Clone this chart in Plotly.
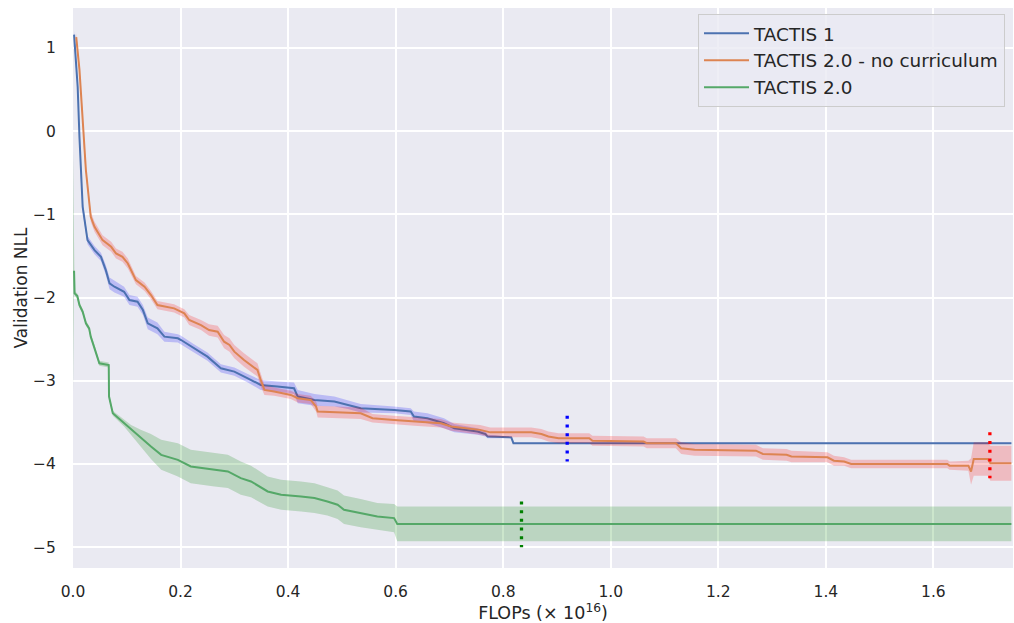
import plotly.graph_objects as go

# FLOPs are in units of 1e16; values are validation NLL (mean and half-width of the shaded band)
T1_X = [0.002, 0.004, 0.0087, 0.012, 0.015, 0.018, 0.027, 0.040, 0.052, 0.061,
        0.068, 0.077, 0.095, 0.105, 0.120, 0.130, 0.139, 0.157, 0.170, 0.195,
        0.201, 0.225, 0.250, 0.275, 0.300, 0.325, 0.349, 0.380, 0.411, 0.418,
        0.449, 0.486, 0.511, 0.535, 0.597, 0.628, 0.634, 0.659, 0.690, 0.709,
        0.752, 0.767, 0.771, 0.815, 0.819, 1.745]
T1_Y = [1.16, 0.95, 0.53, -0.07, -0.59, -0.91, -1.31, -1.43, -1.51, -1.67,
        -1.83, -1.87, -1.93, -2.03, -2.05, -2.15, -2.31, -2.37, -2.47, -2.49,
        -2.51, -2.61, -2.71, -2.85, -2.89, -2.97, -3.05, -3.07, -3.09, -3.19,
        -3.23, -3.25, -3.29, -3.33, -3.35, -3.37, -3.43, -3.45, -3.51, -3.57,
        -3.61, -3.64, -3.67, -3.68, -3.75, -3.75]
T1_SPREAD = [0.05, 0.06, 0.07, 0.07, 0.06, 0.06, 0.05, 0.05, 0.05, 0.06,
             0.07, 0.07, 0.06, 0.06, 0.06, 0.06, 0.07, 0.07, 0.06, 0.05,
             0.05, 0.05, 0.05, 0.05, 0.05, 0.05, 0.06, 0.06, 0.07, 0.08,
             0.07, 0.06, 0.05, 0.05, 0.04, 0.04, 0.06, 0.06, 0.06, 0.05,
             0.04, 0.03, 0.02, 0.01, 0.005, 0.005]

NC_X = [0.006, 0.012, 0.016, 0.018, 0.021, 0.024, 0.033, 0.040, 0.055, 0.071,
        0.080, 0.092, 0.102, 0.117, 0.133, 0.145, 0.157, 0.188, 0.207, 0.216,
        0.238, 0.253, 0.269, 0.281, 0.291, 0.300, 0.318, 0.343, 0.349, 0.356,
        0.374, 0.405, 0.418, 0.442, 0.452, 0.455, 0.535, 0.557, 0.597, 0.634,
        0.684, 0.703, 0.757, 0.776, 0.852, 0.871, 0.884, 0.903, 0.960, 0.966,
        1.061, 1.067, 1.121, 1.131, 1.156, 1.270, 1.283, 1.327, 1.336, 1.403,
        1.415, 1.434, 1.447, 1.453, 1.626, 1.630, 1.665, 1.670, 1.675, 1.701,
        1.706, 1.745]
NC_Y = [1.13, 0.74, 0.34, 0.13, -0.27, -0.47, -1.03, -1.15, -1.31, -1.39,
        -1.47, -1.51, -1.59, -1.79, -1.87, -1.97, -2.09, -2.13, -2.19, -2.27,
        -2.33, -2.39, -2.41, -2.53, -2.57, -2.65, -2.75, -2.87, -2.99, -3.11,
        -3.13, -3.17, -3.21, -3.23, -3.31, -3.37, -3.39, -3.45, -3.47, -3.49,
        -3.51, -3.55, -3.59, -3.62, -3.62, -3.64, -3.67, -3.69, -3.69, -3.72,
        -3.73, -3.75, -3.75, -3.81, -3.83, -3.84, -3.88, -3.89, -3.91, -3.92,
        -3.96, -3.97, -4.00, -4.00, -4.00, -4.02, -4.02, -4.09, -3.94, -3.94,
        -3.99, -3.99]
NC_SPREAD = [0.05, 0.05, 0.05, 0.05, 0.05, 0.05, 0.06, 0.06, 0.06, 0.06,
             0.06, 0.06, 0.06, 0.05, 0.05, 0.05, 0.05, 0.05, 0.05, 0.06,
             0.06, 0.07, 0.07, 0.08, 0.08, 0.08, 0.08, 0.08, 0.08, 0.06,
             0.05, 0.05, 0.05, 0.05, 0.06, 0.07, 0.07, 0.05, 0.05, 0.05,
             0.05, 0.05, 0.06, 0.06, 0.06, 0.06, 0.06, 0.06, 0.06, 0.06,
             0.06, 0.06, 0.06, 0.07, 0.07, 0.07, 0.07, 0.07, 0.07, 0.06,
             0.06, 0.05, 0.05, 0.05, 0.05, 0.05, 0.06, 0.16, 0.20, 0.20,
             0.21, 0.21]

T2_X = [0.000, 0.002, 0.003, 0.008, 0.012, 0.018, 0.024, 0.030, 0.033, 0.040,
        0.049, 0.0665, 0.067, 0.074, 0.095, 0.108, 0.126, 0.145, 0.164, 0.195,
        0.219, 0.244, 0.263, 0.288, 0.312, 0.331, 0.362, 0.387, 0.424, 0.449,
        0.473, 0.492, 0.504, 0.535, 0.566, 0.597, 0.603, 1.745]
T2_Y = [-1.69, -1.69, -1.95, -1.98, -2.09, -2.17, -2.31, -2.37, -2.47, -2.60,
        -2.79, -2.81, -3.19, -3.39, -3.51, -3.59, -3.69, -3.79, -3.89, -3.95,
        -4.03, -4.05, -4.07, -4.09, -4.17, -4.21, -4.33, -4.37, -4.39, -4.41,
        -4.45, -4.49, -4.55, -4.59, -4.63, -4.65, -4.72, -4.72]
T2_SPREAD = [1.46, 0.05, 0.03, 0.03, 0.03, 0.03, 0.03, 0.03, 0.03, 0.03,
             0.03, 0.03, 0.03, 0.03, 0.04, 0.06, 0.10, 0.15, 0.18, 0.20,
             0.20, 0.20, 0.20, 0.20, 0.20, 0.19, 0.18, 0.18, 0.18, 0.18,
             0.17, 0.17, 0.17, 0.17, 0.16, 0.17, 0.21, 0.21]

SERIES_NAMES = ["TACTIS 1", "TACTIS 2.0 - no curriculum", "TACTIS 2.0"]
LINE_COLORS = ["#4C72B0", "#DD8452", "#55A868"]
BAND_COLORS = ["rgba(0,0,255,0.2)", "rgba(255,0,0,0.2)", "rgba(0,128,0,0.2)"]

# vertical dotted markers (convergence points)
MARK_X = [0.919, 1.705, 0.834]
MARK_Y_LOW = [-3.97, -4.17, -5.00]
MARK_Y_HIGH = [-3.42, -3.62, -4.45]
MARK_COLORS = ["blue", "red", "green"]

X_TICKS = [0.0, 0.2, 0.4, 0.6, 0.8, 1.0, 1.2, 1.4, 1.6]
Y_TICKS = [-5, -4, -3, -2, -1, 0, 1]

TEXT = "#262626"
FONT = "DejaVu Sans"

series = [(T1_X, T1_Y, T1_SPREAD), (NC_X, NC_Y, NC_SPREAD), (T2_X, T2_Y, T2_SPREAD)]

fig = go.Figure()
for (xs, ys, sp), name, lc, bc in zip(series, SERIES_NAMES, LINE_COLORS, BAND_COLORS):
    upper = [y + s for y, s in zip(ys, sp)]
    lower = [y - s for y, s in zip(ys, sp)]
    fig.add_trace(go.Scatter(
        x=list(xs) + list(xs)[::-1], y=upper + lower[::-1],
        fill="toself", fillcolor=bc, line=dict(width=0),
        mode="lines", showlegend=False, hoverinfo="skip"))
    fig.add_trace(go.Scatter(
        x=xs, y=ys, mode="lines", name=name,
        line=dict(color=lc, width=2)))

for mx, lo, hi, c in zip(MARK_X, MARK_Y_LOW, MARK_Y_HIGH, MARK_COLORS):
    fig.add_trace(go.Scatter(
        x=[mx, mx], y=[hi, lo], mode="lines", showlegend=False,
        line=dict(color=c, width=3.3, dash="3px,5.7px")))

fig.update_layout(
    width=1014, height=623,
    margin=dict(l=73, r=1, t=8, b=55),
    paper_bgcolor="white", plot_bgcolor="#EAEAF2",
    font=dict(family=FONT, color=TEXT, size=15.5),
    legend=dict(
        x=0.9915, y=0.9895, xanchor="right", yanchor="top",
        itemwidth=45,
        bgcolor="rgba(234,234,242,0.8)", bordercolor="#CCCCCC", borderwidth=1,
        font=dict(size=18.4, color=TEXT, family=FONT)),
    xaxis=dict(
        range=[0, 1.748], tickvals=X_TICKS, tickformat=".1f",
        showgrid=True, gridcolor="white", gridwidth=1.6, zeroline=False,
        showline=False, ticks="outside", ticklen=9, tickcolor="rgba(0,0,0,0)",
        tickfont=dict(size=15.5, color=TEXT),
        title=dict(text="FLOPs (× 10<sup>16</sup>)", font=dict(size=17.5, color=TEXT), standoff=4)),
    yaxis=dict(
        range=[-5.25, 1.48], tickvals=Y_TICKS,
        showgrid=True, gridcolor="white", gridwidth=1.6, zeroline=False,
        showline=False, ticks="outside", ticklen=13, tickcolor="rgba(0,0,0,0)",
        tickfont=dict(size=15.5, color=TEXT),
        title=dict(text="Validation NLL", font=dict(size=17, color=TEXT), standoff=1)),
)

fig.write_html("out.html")
